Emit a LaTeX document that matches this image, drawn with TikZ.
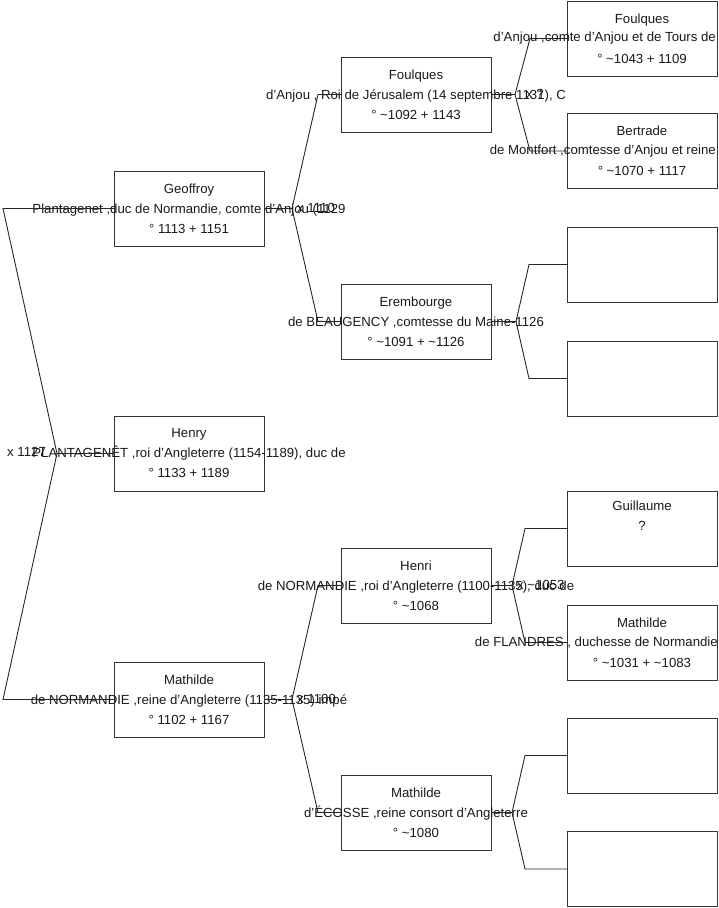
\documentclass[tikz,border=0pt]{standalone}
\usepackage{fontspec}
\setmainfont{Liberation Sans}
\begin{document}
\begin{tikzpicture}[x=1pt,y=-1pt,
  box/.style={draw=black!80, line width=0.9pt, minimum width=150pt, minimum height=75pt, inner sep=0pt, outer sep=0pt, anchor=north west},
  txt/.style={font=\fontsize{13.2}{20}\selectfont, align=center, inner sep=0pt, text=black!90},
  mid/.style={font=\fontsize{13.2}{20}\selectfont, inner sep=0pt, text=black!90, anchor=east},
  conn/.style={draw=black!85, line width=0.9pt},
  lbl/.style={font=\fontsize{13.2}{14}\selectfont, anchor=west, inner sep=0pt, text=black!90}]
\useasboundingbox (0,0) rectangle (719,908);
% generation 1
\node[box] (geof) at (114,171) {};
\node[box] (henry) at (114,416) {};
\node[box] (mat) at (114,662) {};
% generation 2
\node[box] (foul) at (341,57) {};
\node[box] (erem) at (341,284) {};
\node[box] (henri) at (341,548) {};
\node[box] (mate) at (341,775) {};
% generation 3
\node[box] (foulq) at (567,1) {};
\node[box] (bert) at (567,113.5) {};
\node[box] (e1) at (567,227) {};
\node[box] (e2) at (567,341) {};
\node[box] (guil) at (567,491) {};
\node[box] (matf) at (567,605) {};
\node[box] (e3) at (567,718) {};
\node[box] (e4) at (567,831.5) {};
% texts
\node[txt] (tgeof) at (geof.center) {Geoffroy\\Plantagenet ,duc de Normandie, comte d'Anjou (1129\\° 1113 + 1151};
\node[txt] (thenry) at (henry.center) {Henry\\PLANTAGENÊT ,roi d'Angleterre (1154-1189), duc de\\° 1133 + 1189};
\node[txt] (tmat) at (mat.center) {Mathilde\\de NORMANDIE ,reine d'Angleterre (1135-1135) impé\\° 1102 + 1167};
\node[txt] (tfoul) at (foul.center) {Foulques\\d'Anjou , Roi de Jérusalem (14 septembre 1131), C\\° \textasciitilde 1092 + 1143};
\node[txt] (terem) at (erem.center) {Erembourge\\de BEAUGENCY ,comtesse du Maine-1126\\° \textasciitilde 1091 + \textasciitilde 1126};
\node[txt] (thenri) at (henri.center) {Henri\\de NORMANDIE ,roi d'Angleterre (1100-1135), duc de\\° \textasciitilde 1068};
\node[txt] (tmate) at (mate.center) {Mathilde\\d'ÉCOSSE ,reine consort d'Angleterre\\° \textasciitilde 1080};
\node[txt] (tfoulq) at (foulq.center) {Foulques\\\strut\\° \textasciitilde 1043 + 1109};
\node[mid] (mfoulq) at (716,38.5) {d'Anjou ,comte d'Anjou et de Tours de};
\node[txt] (tbert) at (bert.center) {Bertrade\\\strut\\° \textasciitilde 1070 + 1117};
\node[mid] (mbert) at (716,151) {de Montfort ,comtesse d'Anjou et reine};
\node[txt] (tguil) at (guil.center) {Guillaume\\?\\\strut};
\node[txt] (tmatf) at (matf.center) {Mathilde\\\strut\\° \textasciitilde 1031 + \textasciitilde 1083};
\node[mid] (mmatf) at (718,642.5) {de FLANDRES , duchesse de Normandie};
% connector coordinates
\coordinate (v0) at (57,453.5);
\coordinate (v0a) at (3,208.5);
\coordinate (v0b) at (3,699.5);
\coordinate (v1) at (292,208.5);
\coordinate (v1a) at (318,94.5);
\coordinate (v1b) at (318,321.5);
\coordinate (v2) at (292,699.5);
\coordinate (v2a) at (318,585.5);
\coordinate (v2b) at (318,812.5);
\coordinate (v3) at (515,94.5);
\coordinate (v3a) at (530,38.5);
\coordinate (v3b) at (530,151);
\coordinate (v4) at (516,321.5);
\coordinate (v4a) at (529,264.5);
\coordinate (v4b) at (529,378.5);
\coordinate (v5) at (512,585.5);
\coordinate (v5a) at (525,528.5);
\coordinate (v5b) at (525,642.5);
\coordinate (v6) at (512,812.5);
\coordinate (v6a) at (525,755.5);
\coordinate (v6b) at (525,869);
% connectors
\draw[conn] (henry.west) -- (v0) -- (v0a) -- (geof.west);
\draw[conn] (v0) -- (v0b) -- (mat.west);
\draw[conn] (geof.east) -- (v1) -- (v1a) -- (foul.west);
\draw[conn] (v1) -- (v1b) -- (erem.west);
\draw[conn] (mat.east) -- (v2) -- (v2a) -- (henri.west);
\draw[conn] (v2) -- (v2b) -- (mate.west);
\draw[conn] (foul.east) -- (v3) -- (v3a) -- (foulq.west);
\draw[conn] (v3) -- (v3b) -- (bert.west);
\draw[conn] (erem.east) -- (v4) -- (v4a) -- (e1.west);
\draw[conn] (v4) -- (v4b) -- (e2.west);
\draw[conn] (henri.east) -- (v5) -- (v5a) -- (guil.west);
\draw[conn] (v5) -- (v5b) -- (matf.west);
\draw[conn] (mate.east) -- (v6) -- (v6a) -- (e3.west);
\draw[conn] (v6) -- (v6b) -- (e4.west);
% marriage labels
\node[lbl] (m0) at (7,451.5) {x 1127};
\node[lbl] (m1) at (297,207.5) {x 1110};
\node[lbl] (m2) at (297,698.5) {x 1100};
\node[lbl] (m3) at (526,93.5) {x ?};
\node[lbl] (m5) at (517,584.5) {x \textasciitilde 1053};
\end{tikzpicture}
\end{document}
